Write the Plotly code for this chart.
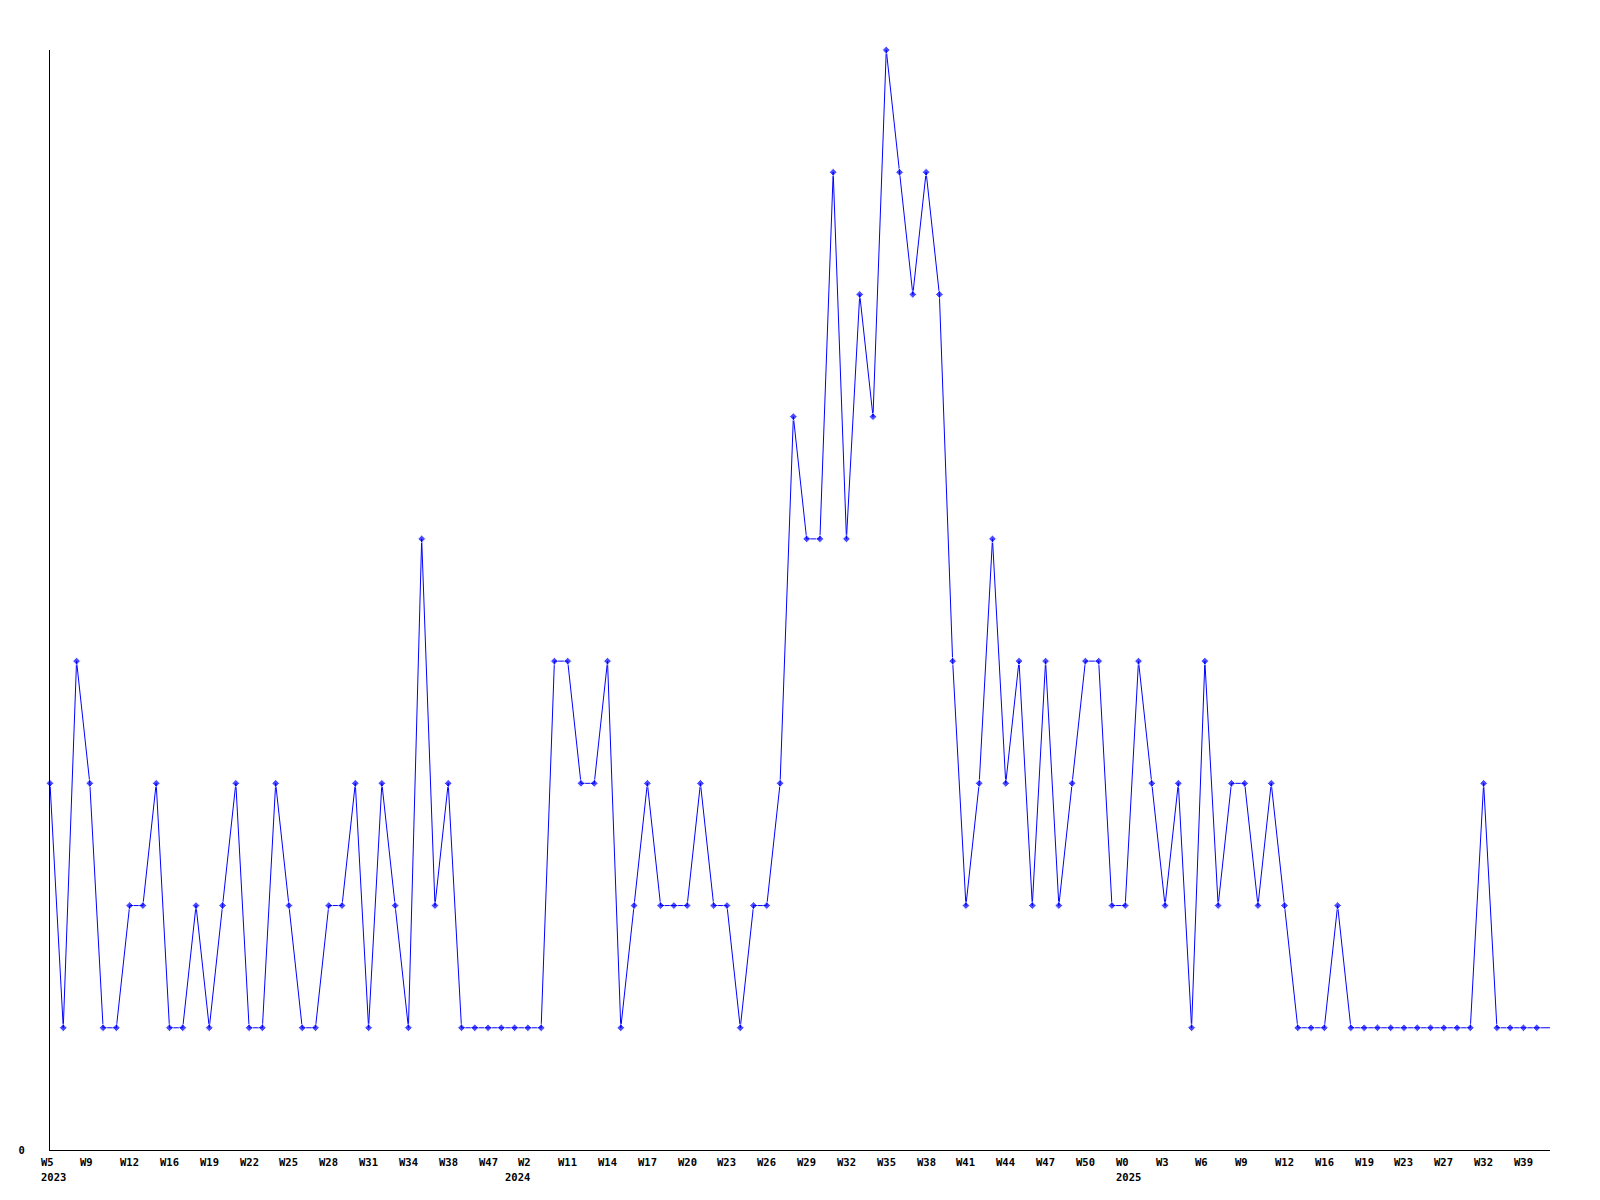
import plotly.graph_objects as go

# Weekly counts (one point per period, left to right)
values = [3, 1, 4, 3, 1, 1, 2, 2, 3, 1, 1, 2, 1, 2, 3, 1, 1, 3, 2, 1,
          1, 2, 2, 3, 1, 3, 2, 1, 5, 2, 3, 1, 1, 1, 1, 1, 1, 1, 4, 4,
          3, 3, 4, 1, 2, 3, 2, 2, 2, 3, 2, 2, 1, 2, 2, 3, 6, 5, 5, 8,
          5, 7, 6, 9, 8, 7, 8, 7, 4, 2, 3, 5, 3, 4, 2, 4, 2, 3, 4, 4,
          2, 2, 4, 3, 2, 3, 1, 4, 2, 3, 3, 2, 3, 2, 1, 1, 1, 2, 1, 1,
          1, 1, 1, 1, 1, 1, 1, 1, 3, 1, 1, 1, 1, 1]

# Week labels, shown on every third point
week_labels = ["W5", "W9", "W12", "W16", "W19", "W22", "W25", "W28", "W31", "W34",
               "W38", "W47", "W2", "W11", "W14", "W17", "W20", "W23", "W26", "W29",
               "W32", "W35", "W38", "W41", "W44", "W47", "W50", "W0", "W3", "W6",
               "W9", "W12", "W16", "W19", "W23", "W27", "W32", "W39"]

# Year labels and the point index they sit under
year_labels = ["2023", "2024", "2025"]
year_label_idx = [0, 36, 81]

n = len(values)
x = list(range(n))
marker_sizes = [6] * (n - 1) + [0]
span = n - 1
label_step = 3
label_idx = list(range(0, n, label_step))[:len(week_labels)]

font_family = "DejaVu Sans Mono"
lab_font = dict(family=font_family, size=10.5, color="black", weight="bold")

fig = go.Figure()
fig.add_trace(go.Scatter(
    x=x, y=values, mode="lines+markers",
    line=dict(color="#0000FF", width=1),
    marker=dict(color="#0000FF", size=marker_sizes, symbol="diamond"),
    cliponaxis=False, showlegend=False, hoverinfo="x+y",
))

annotations = []
for t, i in zip(week_labels, label_idx):
    annotations.append(dict(x=i / span, y=0, xref="paper", yref="paper", text=t,
                            showarrow=False, xanchor="left", yanchor="middle",
                            xshift=-10.5, yshift=-12, font=lab_font, borderpad=0))
year_shifts = {"2024": -24}
for t, i in zip(year_labels, year_label_idx):
    annotations.append(dict(x=i / span, y=0, xref="paper", yref="paper", text=t,
                            showarrow=False, xanchor="left", yanchor="middle",
                            xshift=year_shifts.get(t, -10.5), yshift=-27,
                            font=lab_font, borderpad=0))

fig.update_layout(
    width=1600, height=1200,
    margin=dict(l=42, r=58, t=42, b=58, autoexpand=False),
    plot_bgcolor="white", paper_bgcolor="white",
    annotations=annotations,
    xaxis=dict(range=[0, span], showgrid=False, zeroline=False,
               showline=True, linecolor="black", linewidth=1,
               showticklabels=False, ticks="", fixedrange=True),
    yaxis=dict(range=[0, 9], showgrid=False, zeroline=False,
               showline=True, linecolor="black", linewidth=1,
               tickvals=[0], ticktext=["0"], ticks="",
               ticklabelstandoff=22, tickfont=lab_font, fixedrange=True),
)

fig.write_html("out.html")
